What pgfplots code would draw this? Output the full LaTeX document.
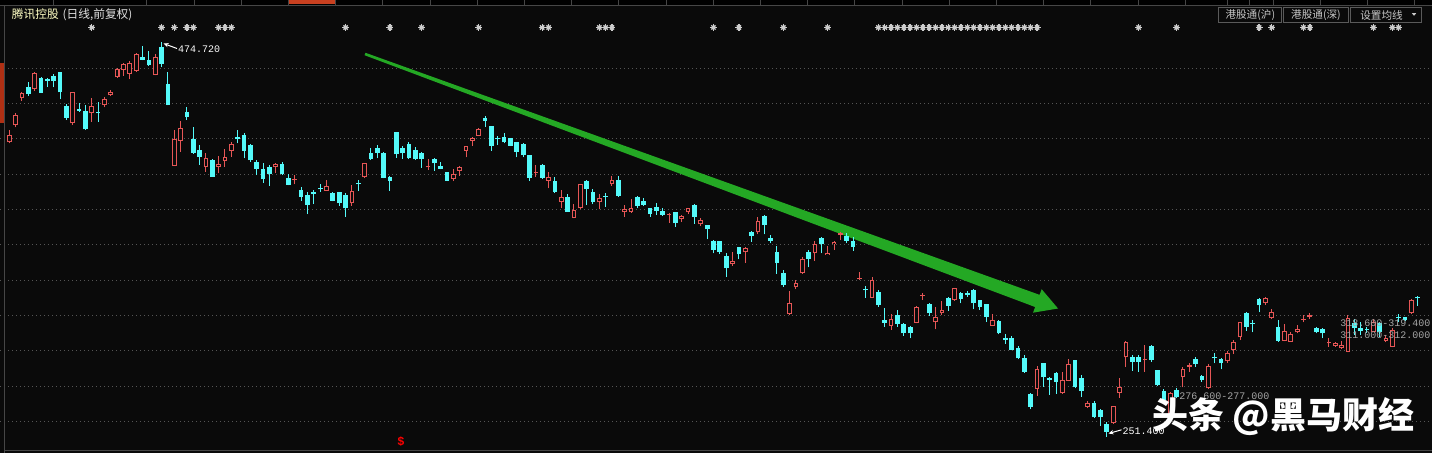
\documentclass[border=0pt]{standalone}
\usepackage{fontspec}
\setmainfont{Liberation Sans}
\newfontfamily\cjk{Noto Sans CJK SC}
\newfontfamily\mono{Liberation Mono}
\usepackage{pgfplots}
\usepackage{pgfplotstable}
\pgfplotsset{compat=1.18}
\usetikzlibrary{arrows.meta}
\definecolor{bgc}{RGB}{10,10,10}
\definecolor{cyanc}{RGB}{84,250,250}
\definecolor{redc}{RGB}{230,86,86}
\definecolor{gridc}{RGB}{85,85,85}
\definecolor{arrowc}{RGB}{36,168,36}
\definecolor{starc}{RGB}{205,205,205}
\definecolor{sepc}{RGB}{70,70,70}
\definecolor{tabc}{RGB}{200,64,32}
\definecolor{leftred}{RGB}{176,48,20}
\definecolor{titley}{RGB}{255,255,196}
\definecolor{titlew}{RGB}{225,225,225}
\definecolor{btnc}{RGB}{90,90,90}
\definecolor{btntext}{RGB}{200,200,200}
\definecolor{lblgray}{RGB}{165,165,165}

\pgfplotstableread{
i o h l c
1 418.5 425.1 417.5 422.3
2 427.9 434.5 426.6 433.6
3 443.4 446.8 441.5 446.2
5 448.1 458.1 447.3 457.5
11 428.9 446.8 427.9 446.4
14 434.5 443.4 429.8 438.7
16 439.2 443.9 437.9 442.6
17 444.7 447.7 444.3 446.6
18 454.9 460.4 454.6 459.4
19 459.0 462.8 455.8 462.2
20 456.8 464.1 453.8 463.2
21 458.7 468.9 458.1 468.1
24 456.2 467.9 456.0 466.6
27 404.9 425.1 404.7 420.0
28 419.0 430.4 412.8 426.0
32 404.3 412.3 401.5 409.0
34 404.3 410.4 400.6 405.6
35 407.7 414.1 404.3 409.6
36 413.2 418.5 410.0 417.0
43 404.0 406.6 400.9 405.8
46 396.7 399.6 394.3 397.3
51 390.7 396.8 390.5 393.4
55 383.6 394.0 382.1 390.6
57 398.3 406.6 397.7 406.2
67 404.0 408.5 402.4 404.7
71 397.4 403.0 396.2 400.0
72 401.9 404.7 399.2 404.3
73 413.4 416.2 409.6 416.0
74 419.0 421.3 416.2 420.4
75 421.9 426.0 421.7 425.5
84 400.9 405.3 398.7 401.5
86 396.4 401.5 392.1 398.3
88 384.5 391.1 380.7 387.0
90 375.5 383.0 375.1 379.8
91 380.7 394.5 380.4 394.3
94 384.1 388.7 380.2 386.8
96 394.5 399.0 393.4 396.8
98 378.9 382.6 376.0 380.4
99 378.9 385.8 378.3 381.1
105 377.0 378.3 372.6 377.5
107 374.5 377.0 373.2 376.4
108 378.5 381.1 377.5 380.7
110 371.7 375.1 370.7 374.1
115 349.1 356.2 348.3 350.9
117 355.8 359.1 350.0 358.1
119 367.2 376.0 366.0 373.6
124 320.9 334.1 320.4 327.0
125 336.0 340.2 334.9 338.3
126 343.9 353.4 343.6 351.9
128 355.3 362.4 351.1 360.6
130 354.3 359.4 354.1 355.6
131 360.4 362.4 357.2 361.9
132 365.8 367.5 362.8 366.6
135 340.6 344.5 340.2 341.3
137 330.2 342.1 330.0 340.2
140 314.3 320.8 311.9 317.9
144 316.0 325.3 315.7 325.1
145 331.1 333.0 328.9 331.7
147 316.2 324.7 312.3 319.1
148 321.3 328.3 320.4 323.2
150 328.9 335.8 328.3 335.5
156 314.3 320.9 314.1 317.5
163 278.5 291.5 274.7 289.8
167 276.0 288.3 275.7 283.6
168 283.2 295.3 283.0 292.5
171 268.5 271.7 267.5 270.8
175 259.1 269.1 258.7 268.9
176 276.4 284.9 273.6 279.8
177 296.4 305.8 291.1 305.3
180 294.8 303.4 288.3 295.4
184 262.8 277.0 262.5 276.0
186 285.5 291.1 279.4 289.8
187 291.1 293.4 288.3 292.1
190 278.9 292.6 278.5 291.5
193 294.3 300.0 293.4 299.1
194 300.6 306.2 298.3 304.9
195 307.7 316.6 306.2 316.2
199 327.4 330.8 326.0 329.8
200 318.9 323.6 317.9 322.3
202 305.7 315.1 305.5 311.5
203 305.3 310.9 305.1 309.6
204 310.6 314.7 310.0 312.4
205 317.5 320.4 316.2 318.1
206 319.4 321.7 318.1 320.4
209 304.3 307.2 302.5 304.9
210 303.0 305.3 302.5 304.7
211 301.5 305.7 301.1 303.4
212 299.6 320.4 299.4 318.9
216 310.9 317.9 310.6 316.6
218 305.7 309.0 304.9 307.2
219 302.5 312.8 302.1 311.9
222 321.3 329.2 320.9 328.9
}\up

\pgfplotstableread{
i o h l c
4 449.6 452.4 444.5 445.5
6 454.3 455.3 446.0 446.2
7 453.8 454.7 449.6 453.0
8 455.6 456.6 449.2 453.0
9 457.7 458.1 442.4 446.4
10 438.7 439.8 430.7 432.1
12 437.0 440.2 435.5 436.0
13 435.8 439.2 425.0 425.5
15 435.5 441.1 429.8 434.5
22 466.2 472.6 464.5 464.7
23 464.7 470.0 461.5 461.7
25 471.9 474.72 460.5 462.4
26 451.1 458.1 439.0 439.2
29 435.5 438.3 430.7 432.3
30 420.0 427.0 411.5 412.3
31 413.8 416.6 405.3 410.0
33 408.1 408.5 398.5 398.7
37 421.3 425.1 417.5 419.8
38 422.3 423.6 409.0 413.2
39 416.6 417.2 407.2 408.1
40 407.2 408.1 399.6 403.0
41 403.0 406.2 395.3 397.2
42 404.3 405.3 393.4 400.2
44 405.8 407.2 399.6 400.2
45 397.7 400.2 393.8 394.0
47 391.1 393.0 384.9 387.3
48 388.3 390.2 377.5 382.6
49 390.2 391.1 383.2 388.7
50 392.4 394.3 390.2 391.5
52 389.6 390.2 384.7 384.9
53 389.8 390.2 382.1 383.6
54 388.3 389.2 376.0 380.7
56 394.9 396.8 390.7 394.3
58 411.9 414.7 408.1 408.5
59 415.1 416.6 409.0 412.3
60 412.3 412.8 397.7 398.1
61 398.3 399.0 390.7 396.4
62 423.8 424.1 409.4 411.3
63 414.7 416.0 408.7 411.9
64 417.2 418.5 408.5 409.0
65 413.8 415.3 408.1 408.5
66 411.9 412.8 403.8 408.5
68 408.5 409.0 402.1 406.2
69 404.7 407.2 402.8 403.2
70 401.1 401.5 396.2 396.4
76 431.7 433.0 427.0 430.4
77 427.3 427.5 413.4 416.2
78 420.4 421.7 416.6 419.8
79 420.9 423.2 417.5 418.1
80 420.4 420.6 416.0 416.2
81 418.1 418.5 409.6 412.8
82 417.0 417.9 409.6 410.9
83 410.9 411.1 396.2 398.1
85 405.3 405.6 397.3 398.1
87 396.2 398.3 389.6 390.2
89 387.0 388.7 378.7 378.9
92 396.2 396.8 382.6 391.7
93 389.8 391.5 383.0 384.5
95 387.9 389.6 381.7 387.3
97 396.8 399.0 387.3 387.9
100 387.3 387.5 380.7 382.3
101 384.9 386.4 382.1 382.6
102 380.7 380.9 376.0 377.4
103 381.7 384.0 377.0 379.4
104 379.2 381.1 376.4 377.0
106 378.5 378.9 370.4 372.3
109 382.6 383.2 371.9 376.0
111 371.3 371.5 363.2 368.9
112 362.3 362.8 355.3 357.2
113 362.2 362.5 354.9 356.3
114 353.8 355.3 342.1 346.8
116 358.7 359.1 351.9 354.7
118 367.5 367.9 361.9 365.3
120 376.4 377.0 366.0 371.3
121 364.1 365.7 360.9 362.4
122 356.2 359.4 343.6 350.0
123 344.3 345.8 336.4 337.4
127 355.8 357.2 347.3 351.9
129 364.0 364.3 355.3 360.4
133 365.3 366.6 360.9 362.4
134 362.3 364.3 356.8 359.1
136 334.9 336.8 330.2 334.3
138 333.6 334.5 325.1 326.0
139 317.5 324.5 313.8 316.0
141 320.4 323.2 313.8 315.3
142 315.1 315.7 308.5 310.0
143 313.8 314.1 307.2 310.0
146 326.4 327.0 319.8 321.3
149 330.2 330.8 322.8 325.5
151 333.0 333.6 327.0 329.2
152 333.0 334.1 330.8 331.7
153 334.5 334.9 323.6 327.0
154 328.9 329.1 323.2 325.1
155 326.6 326.8 316.6 319.4
157 317.0 317.5 309.4 310.0
158 307.2 309.4 304.0 306.2
159 307.5 308.5 300.4 300.6
160 301.5 302.8 295.3 295.8
161 295.8 297.7 287.7 288.3
162 275.7 276.4 267.0 268.5
164 293.0 293.4 279.8 285.1
165 284.9 285.1 275.1 283.6
166 287.4 288.3 275.7 282.6
169 294.9 295.1 278.9 279.4
170 284.5 286.4 274.2 277.5
172 270.8 271.7 262.3 262.5
173 266.6 267.0 257.5 262.5
174 258.5 260.0 251.4 254.3
178 296.4 297.7 288.9 294.0
179 296.4 297.7 288.3 294.0
181 302.8 303.4 294.0 294.9
182 289.2 289.4 280.2 280.8
183 277.5 278.3 271.9 272.3
185 277.9 278.9 273.2 274.2
188 295.3 296.8 291.1 292.5
189 285.8 286.4 282.6 283.6
191 296.8 299.1 293.0 295.8
192 295.3 295.8 289.6 293.0
196 321.7 322.3 311.5 313.8
197 315.7 317.5 310.6 315.1
198 329.4 329.8 321.9 326.0
201 313.8 317.5 305.3 305.8
207 312.8 313.8 310.0 310.6
208 312.4 312.8 307.2 310.0
213 316.0 317.9 309.0 312.8
214 313.2 316.6 309.0 311.3
215 312.4 313.8 310.0 311.9
217 316.0 316.6 308.1 310.9
220 319.1 320.8 316.2 318.5
221 319.1 319.4 317.2 317.5
223 330.8 331.1 325.5 329.8
}\down

\pgfplotsset{
  candlebar/.style 2 args={forget plot, draw=none, fill=none, mark=none,
    error bars/y dir=plus, error bars/y explicit, error bars/error mark=none,
    error bars/error bar style={line width=#2, draw=#1, solid}},
}

\begin{document}
\begin{tikzpicture}
\begin{axis}[
  width=716pt, height=226.5pt, scale only axis,
  xmin=-0.466, xmax=225.26, ymin=242.26, ymax=498.66,
  axis line style={draw=none},
  axis background/.style={fill=bgc},
  xtick=\empty,
  ytick={260,280,...,460}, yticklabels={}, major tick length=0pt,
  ymajorgrids, grid style={gridc, line width=0.5pt, dash pattern=on 0.5pt off 1.5pt},
]
% trend arrow (behind the candles)
\fill[arrowc] (axis cs:57.14,468.79) -- (axis cs:163.40,331.79) -- (axis cs:163.73,334.98)
  -- (axis cs:166.31,324.05) -- (axis cs:162.37,321.69) -- (axis cs:162.70,324.89)
  -- (axis cs:57.00,467.41) -- cycle;
% falling candles
\addplot[candlebar={cyanc}{0.5pt}] table[x=i, y=l, y error expr=\thisrow{h}-\thisrow{l}] {\down};
\addplot[candlebar={cyanc}{2.35pt}] table[x=i, y=c, y error expr=\thisrow{o}-\thisrow{c}] {\down};
% rising candles (hollow)
\addplot[candlebar={redc}{0.5pt}] table[x=i, y=l, y error expr=\thisrow{h}-\thisrow{l}] {\up};
\addplot[candlebar={redc}{2.35pt}] table[x=i, y=o, y error expr=\thisrow{c}-\thisrow{o}] {\up};
\addplot[candlebar={bgc}{1.35pt}] table[x=i, y expr=\thisrow{o}+0.57, y error expr={max(\thisrow{c}-\thisrow{o}-1.14,0)}] {\up};
% event markers
\addplot[forget plot, only marks, mark=+, mark size=1.75pt, starc, mark options={line width=0.7pt}] coordinates {
(14,483.1) (25,483.1) (27,483.1) (29,483.1) (30,483.1) (34,483.1) (35,483.1) (36,483.1)
(54,483.1) (61,483.1) (66,483.1) (75,483.1) (85,483.1) (86,483.1) (94,483.1) (95,483.1) (96,483.1)
(112,483.1) (116,483.1) (123,483.1) (130,483.1)
(138,483.1) (139,483.1) (140,483.1) (141,483.1) (142,483.1) (143,483.1) (144,483.1) (145,483.1) (146,483.1)
(147,483.1) (148,483.1) (149,483.1) (150,483.1) (151,483.1) (152,483.1) (153,483.1) (154,483.1) (155,483.1)
(156,483.1) (157,483.1) (158,483.1) (159,483.1) (160,483.1) (161,483.1) (162,483.1) (163,483.1)
(179,483.1) (185,483.1) (198,483.1) (200,483.1) (205,483.1) (206,483.1) (216,483.1) (219,483.1) (220,483.1)
};
\addplot[forget plot, only marks, mark=x, mark size=1.5pt, starc, mark options={line width=0.7pt}] coordinates {
(14,483.1) (25,483.1) (27,483.1) (29,483.1) (30,483.1) (34,483.1) (35,483.1) (36,483.1)
(54,483.1) (61,483.1) (66,483.1) (75,483.1) (85,483.1) (86,483.1) (94,483.1) (95,483.1) (96,483.1)
(112,483.1) (116,483.1) (123,483.1) (130,483.1)
(138,483.1) (139,483.1) (140,483.1) (141,483.1) (142,483.1) (143,483.1) (144,483.1) (145,483.1) (146,483.1)
(147,483.1) (148,483.1) (149,483.1) (150,483.1) (151,483.1) (152,483.1) (153,483.1) (154,483.1) (155,483.1)
(156,483.1) (157,483.1) (158,483.1) (159,483.1) (160,483.1) (161,483.1) (162,483.1) (163,483.1)
(179,483.1) (185,483.1) (198,483.1) (200,483.1) (205,483.1) (206,483.1) (216,483.1) (219,483.1) (220,483.1)
};
\end{axis}

% overlay in pixel coordinates of the 1432x453 frame
\begin{scope}[shift={(current axis.north west)}, x=0.5pt, y=-0.5pt]
  % top tab strip
  \fill[black] (0,0) rectangle (1432,5);
  \fill[tabc] (288,0) rectangle (335,3.5);
  \foreach \xx in {53.3,146.7,194,241.2,288.4,335.6,382.8,430,477.2,524.4,571.6,618.8,666,713.2,760.4,807.6,854.8,902,949.2,996.4,1043.6,1090.8,1138,1185.2,1227,1249,1273,1320,1367,1414}
    \draw[sepc, line width=0.5pt] (\xx,0) -- (\xx,5);
  \draw[sepc, line width=0.5pt] (0,5.25) -- (1432,5.25);
  % left scale strip
  \fill[leftred] (0,63) rectangle (3.6,123);
  \draw[sepc, line width=0.5pt] (4.5,5.5) -- (4.5,453);
  % bottom line
  \draw[sepc, line width=0.5pt] (4.5,450.5) -- (1432,450.5);
  % title
  \node[anchor=west, inner sep=0pt, font=\cjk\fontsize{5.85}{7}\selectfont] at (11.5,15.2)
    {\textcolor{titley}{腾讯控股}\hspace{2pt}\textcolor{titlew}{(日线,前复权)}};
  % buttons
  \draw[btnc, line width=0.5pt, fill=bgc] (1218.3,7.3) rectangle (1281.7,22.7);
  \draw[btnc, line width=0.5pt, fill=bgc] (1283.3,7.3) rectangle (1348.3,22.7);
  \draw[btnc, line width=0.5pt, fill=bgc] (1350.7,7.3) rectangle (1421.7,22.7);
  \node[inner sep=0pt, text=btntext, font=\cjk\fontsize{5.3}{6}\selectfont] at (1250.3,15) {港股通(沪)};
  \node[inner sep=0pt, text=btntext, font=\cjk\fontsize{5.3}{6}\selectfont] at (1316,15) {港股通(深)};
  \node[inner sep=0pt, text=btntext, font=\cjk\fontsize{5.3}{6}\selectfont] at (1381.5,15) {设置均线};
  \fill[btntext] (1411.8,13.2) -- (1416.2,13.2) -- (1414,15.8) -- cycle;
  % price labels
  \draw[white, line width=0.5pt, -{Stealth[length=2.5pt,width=2.2pt]}] (177,48.5) -- (163.5,43.5);
  \node[anchor=west, inner sep=0pt, text=white, font=\mono\fontsize{5}{6}\selectfont] at (177.8,49) {474.720};
  \draw[white, line width=0.5pt, -{Stealth[length=2.5pt,width=2.2pt]}] (1121.5,429.8) -- (1108.5,433.5);
  \node[anchor=west, inner sep=0pt, text=white, font=\mono\fontsize{5}{6}\selectfont] at (1122.3,430.8) {251.400};
  \node[anchor=west, inner sep=0pt, text=lblgray, font=\mono\fontsize{5}{6}\selectfont] at (1179,396) {276.600-277.000};
  \node[anchor=west, inner sep=0pt, text=lblgray, font=\mono\fontsize{5}{6}\selectfont] at (1340,323.3) {318.600-319.400};
  \node[anchor=west, inner sep=0pt, text=lblgray, font=\mono\fontsize{5}{6}\selectfont] at (1340,335.3) {311.000-312.000};
  \node[inner sep=0pt, text=red, font=\mono\bfseries\fontsize{6}{7}\selectfont] at (401,441.5) {\$};
  % watermark
  \node[anchor=west, inner sep=0pt, text=white, font=\cjk\bfseries\fontsize{18}{19}\selectfont] at (1152,416.5) {头条 @黑马财经};
\end{scope}
\pgfresetboundingbox
\useasboundingbox (current axis.south west) rectangle (current axis.north east);
\end{tikzpicture}
\end{document}
